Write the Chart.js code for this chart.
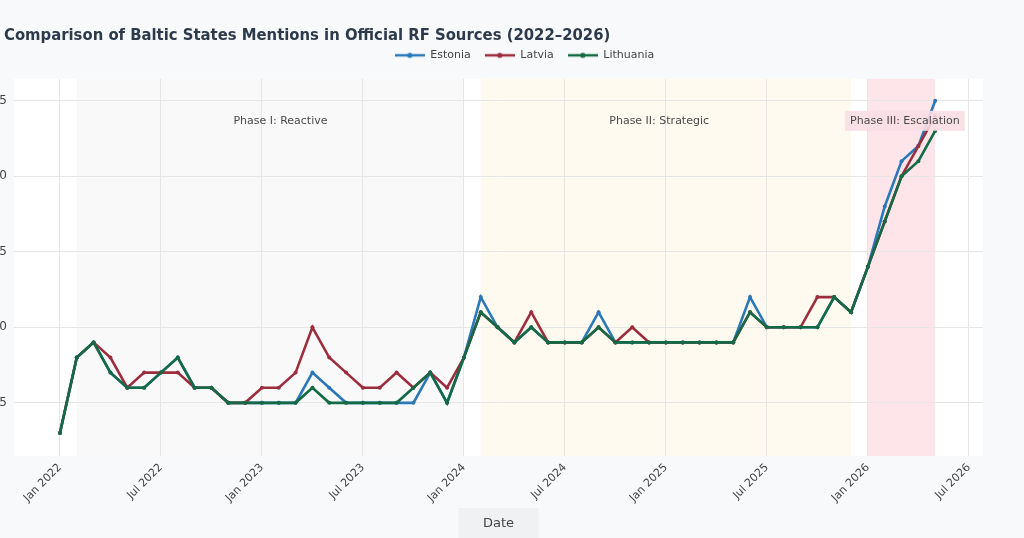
<!DOCTYPE html>
<html>
<head>
<meta charset="utf-8">
<title>Baltic States Mentions</title>
<script src="https://cdn.jsdelivr.net/npm/chart.js@4.4.1/dist/chart.umd.min.js"></script>
<style>
  html, body { margin: 0; padding: 0; background: #f8f9fa; }
  #wrap { width: 1024px; height: 538px; position: relative; overflow: hidden; }
</style>
</head>
<body>
<div id="wrap"><canvas id="mentionsChart"></canvas></div>
<script>
// Monthly mentions, Jan 2022 .. May 2026 (index 0 = Jan 2022)
const startYear = 2022;
const estonia   = [3, 8, 9, 7, 6, 6, 7, 8, 6, 6, 5, 5, 5, 5, 5, 7, 6, 5, 5, 5, 5, 5, 7, 5, 8, 12, 10, 9, 10, 9, 9, 9, 11, 9, 9, 9, 9, 9, 9, 9, 9, 12, 10, 10, 10, 10, 12, 11, 14, 18, 21, 22, 25];
const latvia    = [3, 8, 9, 8, 6, 7, 7, 7, 6, 6, 5, 5, 6, 6, 7, 10, 8, 7, 6, 6, 7, 6, 7, 6, 8, 11, 10, 9, 11, 9, 9, 9, 10, 9, 10, 9, 9, 9, 9, 9, 9, 11, 10, 10, 10, 12, 12, 11, 14, 17, 20, 22, 24];
const lithuania = [3, 8, 9, 7, 6, 6, 7, 8, 6, 6, 5, 5, 5, 5, 5, 6, 5, 5, 5, 5, 5, 6, 7, 5, 8, 11, 10, 9, 10, 9, 9, 9, 10, 9, 9, 9, 9, 9, 9, 9, 9, 11, 10, 10, 10, 10, 12, 11, 14, 17, 20, 21, 23];

// x ticks (month index) and their labels
const xTickMonths = [0, 6, 12, 18, 24, 30, 36, 42, 48, 54];
const xTickLabels = ['Jan 2022', 'Jul 2022', 'Jan 2023', 'Jul 2023', 'Jan 2024', 'Jul 2024', 'Jan 2025', 'Jul 2025', 'Jan 2026', 'Jul 2026'];
const yTicks = [5, 10, 15, 20, 25];

// phases (month index ranges)
const phaseNames = ['Phase I: Reactive', 'Phase II: Strategic', 'Phase III: Escalation'];
const phaseStart = [1, 25, 48];
const phaseEnd = [24, 47, 52];
const phaseLabelAt = [13.1, 35.6, 50.2];

const colors = { estonia: '#2a78b8', latvia: '#9b2d3c', lithuania: '#136a45' };
const phaseFills = ['#f9f9fa', '#fefaef', '#fde5e9'];

const toPoints = (arr) => arr.map((v, i) => ({ x: i, y: v }));

// legend marker: short line with a dot
const makeMarker = (color) => {
  const c = document.createElement('canvas');
  c.width = 30; c.height = 10;
  const g = c.getContext('2d');
  g.strokeStyle = color; g.lineWidth = 2.5;
  g.beginPath(); g.moveTo(0, 5); g.lineTo(30, 5); g.stroke();
  g.fillStyle = color;
  g.beginPath(); g.arc(15, 5, 2.6, 0, Math.PI * 2); g.fill();
  return c;
};
const markers = [makeMarker(colors.estonia), makeMarker(colors.latvia), makeMarker(colors.lithuania)];

const FONT = "'DejaVu Sans', sans-serif";
const TITLE_FONT = "'DejaVu Sans Condensed', 'DejaVu Sans', sans-serif";

// background, phase bands and the "Date" box
const backdrop = {
  id: 'backdrop',
  beforeDraw(chart) {
    const { ctx, chartArea: a, scales: { x } } = chart;
    ctx.save();
    ctx.fillStyle = '#ffffff';
    ctx.fillRect(a.left, a.top, a.right - a.left, a.bottom - a.top);
    phaseStart.forEach((s, i) => {
      const x0 = x.getPixelForValue(s);
      const x1 = x.getPixelForValue(phaseEnd[i]);
      ctx.fillStyle = phaseFills[i];
      ctx.fillRect(x0, a.top, x1 - x0, a.bottom - a.top);
    });
    const cx = (a.left + a.right) / 2;
    ctx.fillStyle = '#f0f1f3';
    ctx.fillRect(cx - 40, chart.height - 30, 80, 30);
    ctx.restore();
  },
  afterDatasetsDraw(chart) {
    const { ctx, chartArea: a, scales: { x } } = chart;
    ctx.save();
    ctx.font = '11px ' + FONT;
    ctx.textAlign = 'center';
    ctx.textBaseline = 'middle';
    const y = a.top + 42;
    phaseNames.forEach((name, i) => {
      const px = x.getPixelForValue(phaseLabelAt[i]);
      if (i === 2) {
        const w = ctx.measureText(name).width + 10;
        ctx.fillStyle = 'rgba(250, 222, 230, 0.9)';
        ctx.fillRect(px - w / 2, y - 10, w, 20);
      }
      ctx.fillStyle = '#4a4a4a';
      ctx.fillText(name, px, y);
    });
    ctx.restore();
  }
};

// extra gap under the legend, nudge legend and title like the original
const layoutTweak = {
  id: 'layoutTweak',
  beforeInit(chart) {
    const fit = chart.legend.fit;
    chart.legend.fit = function () {
      fit.bind(chart.legend)();
      this.height += 8;
    };
  },
  afterLayout(chart) {
    chart.legend.left += 33;
    chart.legend.right += 33;
    chart.titleBlock.left += 4;
    chart.titleBlock.right += 4;
  }
};

new Chart(document.getElementById('mentionsChart'), {
  type: 'line',
  data: {
    datasets: [
      { label: 'Estonia', data: toPoints(estonia), borderColor: colors.estonia, backgroundColor: colors.estonia, order: 3 },
      { label: 'Latvia', data: toPoints(latvia), borderColor: colors.latvia, backgroundColor: colors.latvia, order: 2 },
      { label: 'Lithuania', data: toPoints(lithuania), borderColor: colors.lithuania, backgroundColor: colors.lithuania, order: 1 },
    ],
  },
  options: {
    responsive: true,
    maintainAspectRatio: false,
    animation: false,
    layout: { padding: { left: 0, right: 41, top: 0, bottom: 0 } },
    elements: {
      line: { borderWidth: 2.6, tension: 0 },
      point: { radius: 2, borderWidth: 0, hoverRadius: 3 },
    },
    plugins: {
      title: {
        display: true,
        text: 'Comparison of Baltic States Mentions in Official RF Sources (2022–2026)',
        align: 'start',
        color: '#2c3a4b',
        font: { family: TITLE_FONT, size: 16.5, weight: 'bold' },
        padding: { top: 26, bottom: -10 },
      },
      legend: {
        display: true,
        position: 'top',
        labels: {
          usePointStyle: true,
          pointStyleWidth: 30,
          padding: 14,
          color: '#444',
          font: { family: FONT, size: 11 },
          sort: (a, b) => a.datasetIndex - b.datasetIndex,
          generateLabels: (chart) =>
            Chart.defaults.plugins.legend.labels.generateLabels(chart).map((l) => ({ ...l, pointStyle: markers[l.datasetIndex] })),
        },
      },
      tooltip: { enabled: false },
    },
    scales: {
      x: {
        type: 'linear',
        min: -2.73,
        max: 54.84,
        afterFit: (s) => { s.height = 82; },
        afterBuildTicks: (s) => { s.ticks = xTickMonths.map((v) => ({ value: v })); },
        grid: { color: '#e6e6e6', drawTicks: false },
        border: { display: false },
        ticks: {
          autoSkip: false,
          minRotation: 45,
          maxRotation: 45,
          padding: 5,
          color: '#444',
          font: { family: FONT, size: 11 },
          callback: (v) => xTickLabels[xTickMonths.indexOf(v)],
        },
        title: {
          display: true,
          text: 'Date',
          color: '#444',
          font: { family: FONT, size: 13 },
          padding: { top: 0, bottom: 7 },
        },
      },
      y: {
        min: 1.48,
        max: 26.45,
        afterFit: (s) => { s.width = 14; },
        afterBuildTicks: (s) => { s.ticks = yTicks.map((v) => ({ value: v })); },
        grid: { color: '#e6e6e6', drawTicks: false },
        border: { display: false },
        ticks: {
          padding: 7,
          color: '#444',
          font: { family: FONT, size: 12 },
        },
      },
    },
  },
  plugins: [backdrop, layoutTweak],
});
</script>
</body>
</html>
